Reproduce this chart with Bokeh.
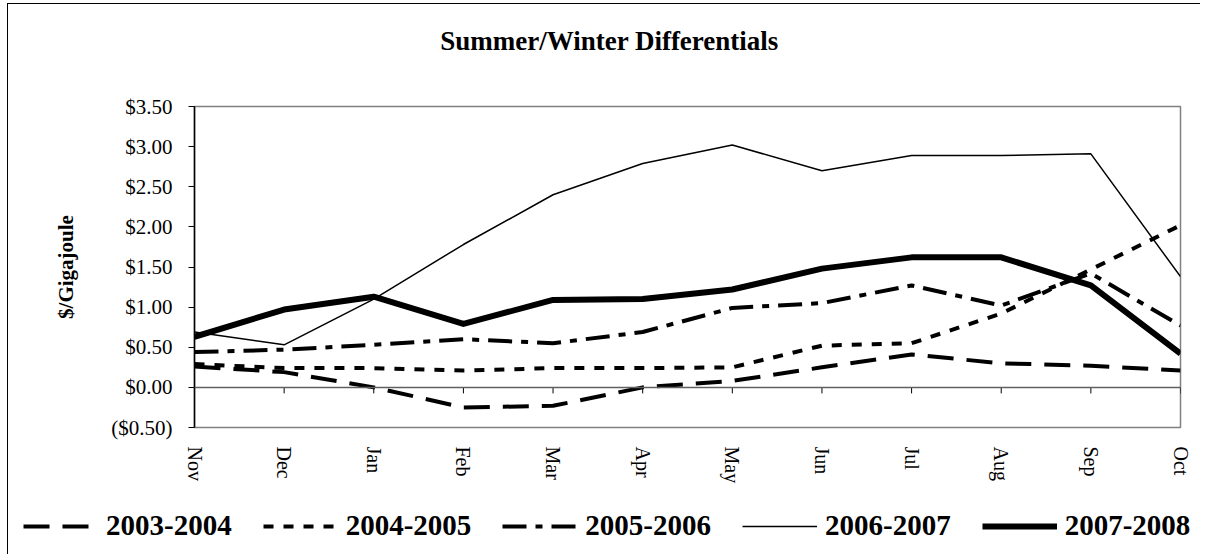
from bokeh.plotting import figure
from bokeh.models import (Range1d, FixedTicker, Legend, LegendItem, Span)
from bokeh.layouts import column
from bokeh.core.properties import value
from bokeh.embed import file_html
from bokeh.resources import INLINE

months = ["Nov", "Dec", "Jan", "Feb", "Mar", "Apr", "May", "Jun", "Jul", "Aug", "Sep", "Oct"]
s2003_2004 = [0.26, 0.19, 0.00, -0.25, -0.23, 0.00, 0.08, 0.25, 0.41, 0.30, 0.27, 0.21]
s2004_2005 = [0.29, 0.24, 0.24, 0.21, 0.24, 0.24, 0.25, 0.52, 0.55, 0.92, 1.47, 2.02]
s2005_2006 = [0.44, 0.47, 0.53, 0.60, 0.55, 0.69, 0.99, 1.05, 1.27, 1.02, 1.42, 0.77]
s2006_2007 = [0.69, 0.53, 1.10, 1.78, 2.40, 2.79, 3.02, 2.70, 2.89, 2.89, 2.91, 1.38]
s2007_2008 = [0.63, 0.97, 1.13, 0.79, 1.09, 1.10, 1.22, 1.48, 1.62, 1.62, 1.27, 0.42]
series_names = ["2003-2004", "2004-2005", "2005-2006", "2006-2007", "2007-2008"]
y_tick_values = [-0.5, 0.0, 0.5, 1.0, 1.5, 2.0, 2.5, 3.0, 3.5]
y_tick_labels = ["($0.50)", "$0.00", "$0.50", "$1.00", "$1.50", "$2.00", "$2.50", "$3.00", "$3.50"]
chart_title = "Summer/Winter Differentials"
y_label = "$/Gigajoule"

FONT = "Liberation Serif"
W = 1192
BL, BR = 186, 20          # left / right borders around the plotting frame
x_idx = list(range(len(months)))
all_series = [s2003_2004, s2004_2005, s2005_2006, s2006_2007, s2007_2008]

styles = [
    dict(line_width=4, line_dash="26 13"),
    dict(line_width=4, line_dash="10 10"),
    dict(line_width=4, line_dash="24 9 7 9"),
    dict(line_width=1.5),
    dict(line_width=6, line_join="round"),
]

# title strip (its frame is aligned with the chart frame; ranges in pixels)
TOP_H = 90
FRAME_W = W - BL - BR
top = figure(width=W, height=TOP_H, output_backend="svg", toolbar_location=None,
             x_axis_type=None, y_axis_type=None,
             x_range=Range1d(0, FRAME_W), y_range=Range1d(0, TOP_H),
             min_border_left=BL, min_border_right=BR, min_border_top=0, min_border_bottom=0)
top.grid.visible = False
top.outline_line_color = None
top.border_fill_color = "white"
top.text(x=[415], y=[54], text=[chart_title], text_font=value(FONT), text_font_size="27px",
         text_font_style="bold", text_color="black", text_align="center",
         text_baseline="alphabetic")

# main chart
p = figure(width=W, height=403, output_backend="svg", toolbar_location=None,
           x_range=Range1d(0, len(months) - 1), y_range=Range1d(y_tick_values[0], y_tick_values[-1]),
           min_border_left=BL, min_border_right=BR, min_border_top=12, min_border_bottom=70)
p.grid.visible = False
p.outline_line_color = "#808080"
p.outline_line_width = 1.5
p.background_fill_color = "white"
p.border_fill_color = "white"

p.yaxis.ticker = FixedTicker(ticks=y_tick_values)
p.yaxis.major_label_overrides = {v: l for v, l in zip(y_tick_values, y_tick_labels)}
p.yaxis.major_label_text_font = FONT
p.yaxis.major_label_text_font_size = "21px"
p.yaxis.major_label_text_color = "black"
p.yaxis.axis_line_color = "black"
p.yaxis.axis_line_width = 1.5
p.yaxis.major_tick_line_color = "black"
p.yaxis.major_tick_out = 6
p.yaxis.major_tick_in = 0
p.yaxis.minor_tick_line_color = None
p.yaxis.major_label_standoff = 16
p.yaxis.axis_label = y_label
p.yaxis.axis_label_text_font = FONT
p.yaxis.axis_label_text_font_size = "21px"
p.yaxis.axis_label_text_font_style = "bold"
p.yaxis.axis_label_text_color = "black"
p.yaxis.axis_label_standoff = 30

p.xaxis.ticker = FixedTicker(ticks=x_idx)
p.xaxis.major_label_overrides = {i: m for i, m in zip(x_idx, months)}
p.xaxis.major_label_orientation = "vertical"
p.xaxis.major_label_text_font = FONT
p.xaxis.major_label_text_font_size = "20px"
p.xaxis.major_label_text_color = "black"
p.xaxis.axis_line_color = None
p.xaxis.major_tick_line_color = None
p.xaxis.minor_tick_line_color = None
p.xaxis.major_label_standoff = 13

p.add_layout(Span(location=0, dimension="width", line_color="#606060", line_width=1.5))
p.segment(x0=x_idx, y0=[0] * len(x_idx), x1=x_idx, y1=[-0.075] * len(x_idx),
          line_color="black", line_width=1)

for s, st in zip(all_series, styles):
    p.line(x_idx, s, line_color="black", **st)

# legend strip: a separate root (so its frame is not aligned with the chart frame);
# the same series are drawn out of view so that only their legend entries show
lg = figure(width=W, height=57, output_backend="svg", toolbar_location=None,
            x_axis_type=None, y_axis_type=None,
            x_range=Range1d(0, 1), y_range=Range1d(100, 101),
            min_border_left=0, min_border_right=0, min_border_top=0, min_border_bottom=0,
            styles={"margin-left": "7px", "border-left": "1px solid black"})
lg.grid.visible = False
lg.outline_line_color = None
lg.border_fill_color = "white"
items = []
for n, s, st in zip(series_names, all_series, styles):
    r = lg.line(x_idx, s, line_color="black", **st)
    items.append(LegendItem(label=n, renderers=[r]))
legend = Legend(items=items, orientation="horizontal", location=(15, 12),
                label_text_font=FONT, label_text_font_size="29px", label_text_font_style="bold",
                label_text_color="black", glyph_width=75, glyph_height=30, label_height=30,
                label_standoff=8, spacing=31, padding=0, margin=0,
                border_line_color=None, background_fill_alpha=0)
lg.add_layout(legend, "center")

layout = column(top, p, spacing=0,
                styles={"margin-left": "7px", "margin-top": "3px",
                        "border-left": "1px solid black", "border-top": "1px solid black"})

open("out.html", "w").write(file_html([layout, lg], INLINE))
